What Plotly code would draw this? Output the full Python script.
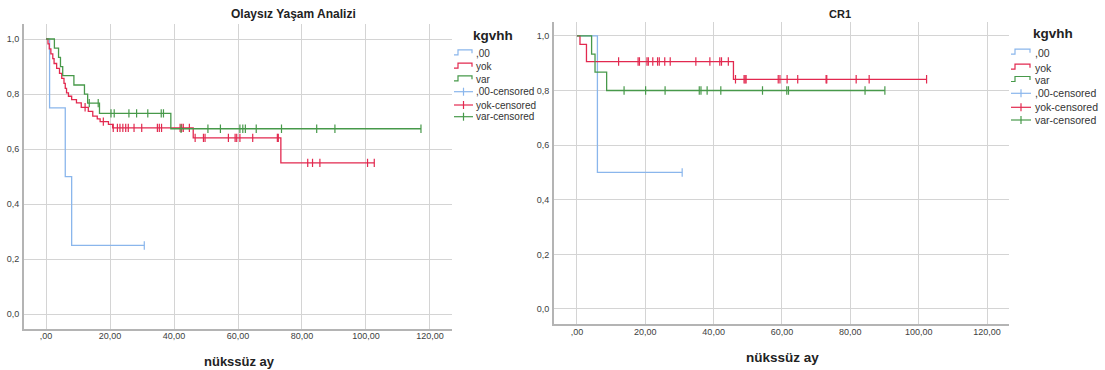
import plotly.graph_objects as go

W, H = 1105, 370

# ---- Olaysız Yaşam Analizi (left panel) ----
efs_blue_t = [0, 1.1, 6.0, 8.0]
efs_blue_s = [1.0, 0.75, 0.50, 0.25]
efs_blue_cens = [30.7]

efs_red_t = [0, 0.6, 1.0, 1.5, 2.1, 2.5, 3.3, 4.2, 4.9, 5.6, 6.0, 6.4, 7.0, 8.0,
             9.5, 11.0, 13.2, 14.6, 16.0, 16.9, 19.5, 20.8, 46.0, 73.4]
efs_red_s = [1.0, 0.982, 0.964, 0.946, 0.929, 0.911, 0.893, 0.875, 0.857, 0.839,
             0.821, 0.804, 0.792, 0.780, 0.768, 0.752, 0.737, 0.720, 0.710, 0.700,
             0.690, 0.677, 0.641, 0.550]
efs_red_cens = [12.2, 17.9, 21.0, 22.3, 23.1, 24.0, 24.9, 25.7, 27.5, 29.9, 34.8,
                35.4, 36.1, 41.9, 42.4, 42.9, 44.8, 46.6, 49.2, 49.7, 57.0, 59.1,
                59.6, 60.6, 64.6, 72.3, 72.6, 81.8, 83.3, 85.6, 100.5, 102.6]

efs_green_t = [0, 2.6, 3.9, 4.5, 5.2, 8.7, 12.0, 13.0, 16.7, 39.0]
efs_green_s = [1.0, 0.967, 0.933, 0.900, 0.867, 0.833, 0.800, 0.767, 0.730, 0.674]
efs_green_cens = [13.5, 16.3, 20.3, 21.3, 25.9, 28.3, 31.8, 36.0, 36.7, 42.2, 50.6,
                  54.5, 60.6, 61.5, 62.3, 65.7, 73.6, 84.6, 90.3, 117.2]

# ---- CR1 (right panel) ----
cr1_blue_t = [0, 6.0]
cr1_blue_s = [1.0, 0.50]
cr1_blue_cens = [30.8]

cr1_red_t = [0, 0.9, 2.8, 45.8]
cr1_red_s = [1.0, 0.969, 0.906, 0.841]
cr1_red_cens = [12.2, 17.9, 18.3, 20.5, 20.9, 22.2, 23.6, 24.1, 25.7, 27.3, 34.8,
                38.9, 41.8, 42.3, 44.3, 46.4, 48.9, 49.2, 49.5, 58.9, 59.4, 61.5,
                64.6, 72.9, 73.1, 81.7, 85.5, 102.3]

cr1_green_t = [0, 4.3, 5.3, 8.7]
cr1_green_s = [1.0, 0.933, 0.867, 0.800]
cr1_green_cens = [13.8, 20.1, 25.8, 35.8, 36.3, 38.1, 42.1, 54.3, 61.4, 61.9, 84.3, 90.1]

x_tickvals = [0, 20, 40, 60, 80, 100, 120]
x_ticktext = [",00", "20,00", "40,00", "60,00", "80,00", "100,00", "120,00"]
y_tickvals = [0.0, 0.2, 0.4, 0.6, 0.8, 1.0]
y_ticktext = ["0,0", "0,2", "0,4", "0,6", "0,8", "1,0"]

group_names = [",00", "yok", "var"]
group_colors = ["#8ab6ec", "#e2294f", "#47994a"]

FONT = "Liberation Sans, Arial, sans-serif"


def step_value(times, surv, t):
    val = surv[0]
    for ti, si in zip(times, surv):
        if ti <= t:
            val = si
    return val


def add_group(fig, times, surv, cens, color, xa, ya):
    end = max([times[-1]] + cens)
    xs = list(times) + [end]
    ys = list(surv) + [surv[-1]]
    fig.add_trace(go.Scatter(x=xs, y=ys, mode="lines", line=dict(color=color, width=1.3, shape="hv"),
                             xaxis=xa, yaxis=ya, showlegend=False, hoverinfo="skip"))
    if cens:
        fig.add_trace(go.Scatter(x=cens, y=[step_value(times, surv, c) for c in cens], mode="markers",
                                 marker=dict(symbol="line-ns", size=6, line=dict(color=color, width=1.2)),
                                 xaxis=xa, yaxis=ya, showlegend=False, hoverinfo="skip"))


fig = go.Figure()
left = [(efs_blue_t, efs_blue_s, efs_blue_cens), (efs_red_t, efs_red_s, efs_red_cens),
        (efs_green_t, efs_green_s, efs_green_cens)]
right = [(cr1_blue_t, cr1_blue_s, cr1_blue_cens), (cr1_red_t, cr1_red_s, cr1_red_cens),
         (cr1_green_t, cr1_green_s, cr1_green_cens)]
for (t, s, c), col in zip(left, group_colors):
    add_group(fig, t, s, c, col, "x", "y")
for (t, s, c), col in zip(right, group_colors):
    add_group(fig, t, s, c, col, "x2", "y2")


def px(x):
    return x / W


def py(y):
    return 1 - y / H


axis_common = dict(showgrid=True, gridcolor="#d4d4d4", gridwidth=1, zeroline=False,
                   showline=True, linecolor="#b4b4b4", linewidth=2, ticks="",
                   tickfont=dict(family=FONT, size=9, color="#404040"), fixedrange=True)

fig.update_layout(
    width=W, height=H, margin=dict(l=0, r=0, t=0, b=0),
    paper_bgcolor="white", plot_bgcolor="white", showlegend=False,
    xaxis=dict(domain=[px(24), px(452)], range=[-6.9, 126.9], tickvals=x_tickvals,
               ticktext=x_ticktext, anchor="y", ticklabelstandoff=-3, **axis_common),
    yaxis=dict(domain=[py(329.3), py(24)], range=[-0.0545, 1.0545], tickvals=y_tickvals,
               ticktext=y_ticktext, anchor="x", ticklabelstandoff=1, **axis_common),
    xaxis2=dict(domain=[px(554), px(1009.3)], range=[-6.7, 126.5], tickvals=x_tickvals,
                ticktext=x_ticktext, anchor="y2", ticklabelstandoff=-2, **axis_common),
    yaxis2=dict(domain=[py(324), py(21.7)], range=[-0.055, 1.052], tickvals=y_tickvals,
                ticktext=y_ticktext, anchor="x2", ticklabelstandoff=1, **axis_common),
)

annotations = []
shapes = []


def text(x, y, s, size, bold=False, anchor="center", color="#222222"):
    annotations.append(dict(x=px(x), y=py(y), xref="paper", yref="paper", text=f"<b>{s}</b>" if bold else s,
                            showarrow=False, xanchor=anchor, yanchor="middle",
                            font=dict(family=FONT, size=size, color=color)))


# titles and axis titles
text(293, 14, "Olaysız Yaşam Analizi", 12, bold=True)
text(840, 14, "CR1", 11, bold=True)
text(239, 361, "nükssüz ay", 13, bold=True)
text(782, 357, "nükssüz ay", 13.5, bold=True)


def legend(x0, x1, title_x, title_y, item_ys, size):
    text(title_x, title_y, "kgvhh", 13.5, bold=True)
    labels = group_names + [g + "-censored" for g in group_names]
    cols = group_colors + group_colors
    for i, (lab, col, yy) in enumerate(zip(labels, cols, item_ys)):
        if i < 3:
            xa = x0 + 4
            path = (f"M {px(x0)},{py(yy + 1.5)} L {px(xa)},{py(yy + 1.5)} L {px(xa)},{py(yy - 3.5)} "
                    f"L {px(x1 - 1)},{py(yy - 3.5)} L {px(x1 - 1)},{py(yy)}")
            shapes.append(dict(type="path", path=path, xref="paper", yref="paper",
                               line=dict(color=col, width=1.2)))
        else:
            shapes.append(dict(type="line", xref="paper", yref="paper", x0=px(x0), x1=px(x1),
                               y0=py(yy), y1=py(yy), line=dict(color=col, width=1.2)))
            xm = (x0 + x1) / 2
            shapes.append(dict(type="line", xref="paper", yref="paper", x0=px(xm), x1=px(xm),
                               y0=py(yy - 4), y1=py(yy + 4), line=dict(color=col, width=1.2)))
        text(x1 + 1.5, yy, lab, size, anchor="left", color="#333333")


legend(454, 473, 493, 35, [53.3, 66.7, 79.3, 91.7, 105, 116.7], 10)
legend(1011, 1031, 1053, 33.5, [52.7, 67.7, 80, 93.3, 107.3, 120], 10.5)

fig.update_layout(annotations=annotations, shapes=shapes)
fig.write_html("out.html")
